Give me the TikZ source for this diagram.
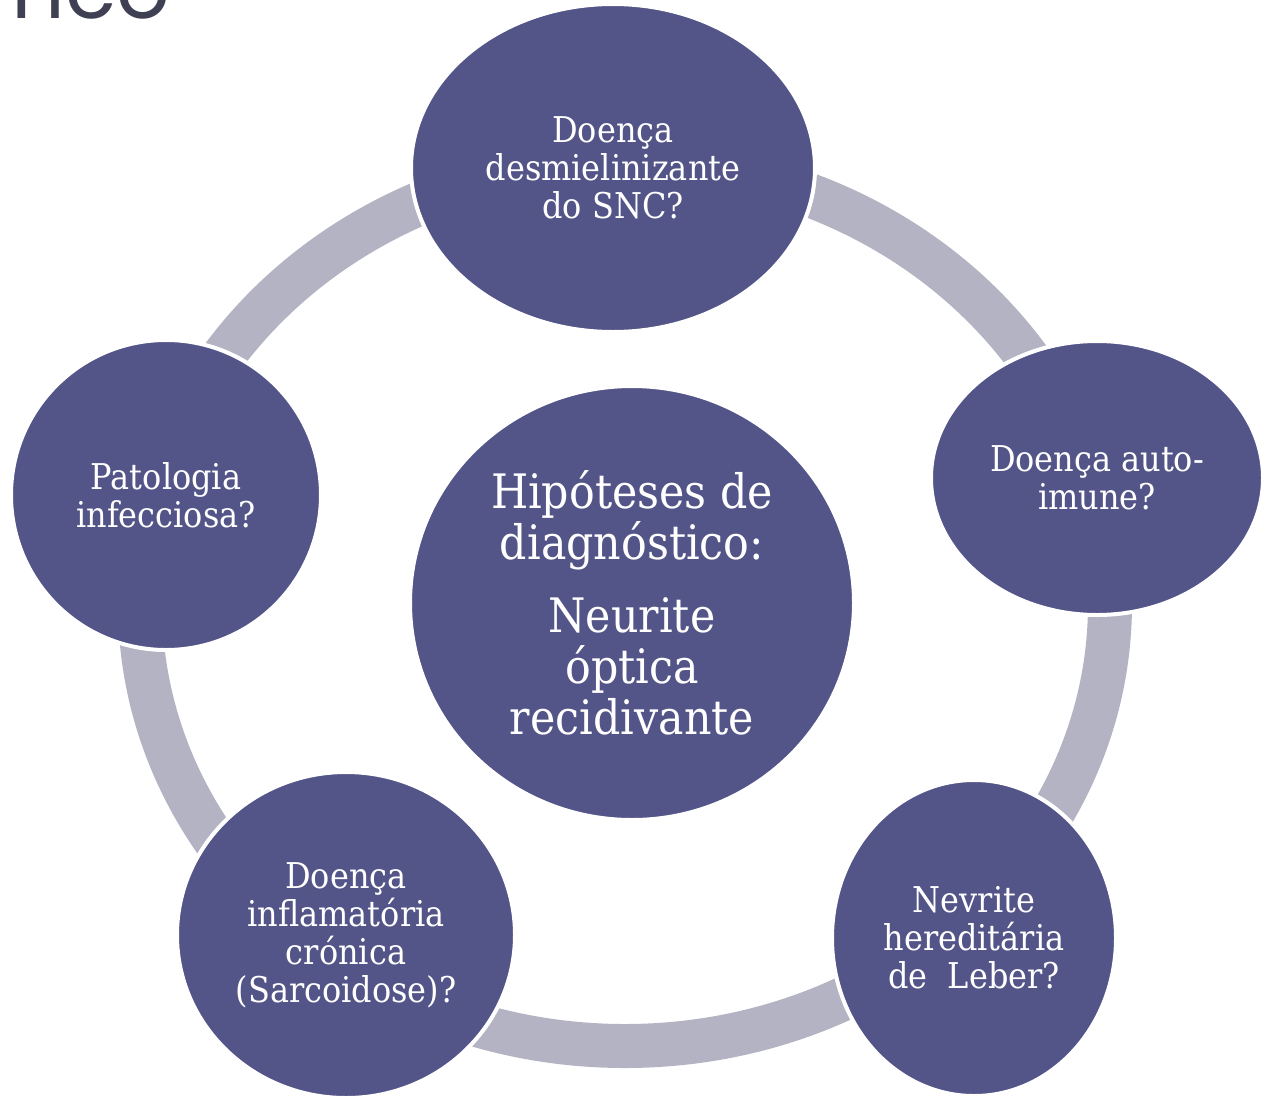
\documentclass[tikz,border=0pt]{standalone}
\usepackage{fontspec}
\setmainfont{DejaVu Serif}[FakeStretch=0.9]
\newfontfamily\titlefont{Poppins}
\usetikzlibrary{shapes.geometric}
\definecolor{nodefill}{RGB}{83,84,136}
\definecolor{ringgray}{RGB}{179,179,196}
\definecolor{titlegray}{RGB}{64,64,84}
\begin{document}
\begin{tikzpicture}[x=1pt,y=-1pt,
  bub/.style={ellipse, fill=nodefill, draw=white, line width=4pt, inner sep=0pt,
    text=white, align=center, font=\fontsize{35.5}{38}\selectfont},
  mainbub/.style={bub, font=\fontsize{47.5}{51}\selectfont},
  ringline/.style={draw=ringgray, line width=44pt}
]
\useasboundingbox (0,0) rectangle (1266,1095);
\begin{scope}
\clip (0,0) rectangle (1266,1095);
\node[anchor=base east, inner sep=0pt, text=titlegray,
  font=\titlefont\fontsize{84}{84}\selectfont] (title) at (170,18) {nco};
\coordinate (rc) at (625,604);
\draw[ringline] (rc) ellipse [x radius=485, y radius=442];
\node[mainbub, minimum width=444pt, minimum height=434pt] (center) at (632,603)
  {Hipóteses de\\diagnóstico:\\[22pt]Neurite\\óptica\\recidivante};
\node[bub, minimum width=404pt, minimum height=328pt] (top) at (613,168)
  {Doença\\desmielinizante\\do SNC?};
\node[bub, minimum width=332pt, minimum height=274pt] (right) at (1097,478)
  {Doença auto-\\imune?};
\node[bub, minimum width=284pt, minimum height=316pt] (bright) at (974,938)
  {Nevrite\\hereditária\\de\ \ Leber?};
\node[bub, minimum width=338pt, minimum height=326pt] (bleft) at (346,935)
  {Doença\\inflamatória\\crónica\\(Sarcoidose)?};
\node[bub, minimum width=310pt, minimum height=310pt] (left) at (166,495)
  {Patologia\\infecciosa?};
\end{scope}
\end{tikzpicture}
\end{document}
